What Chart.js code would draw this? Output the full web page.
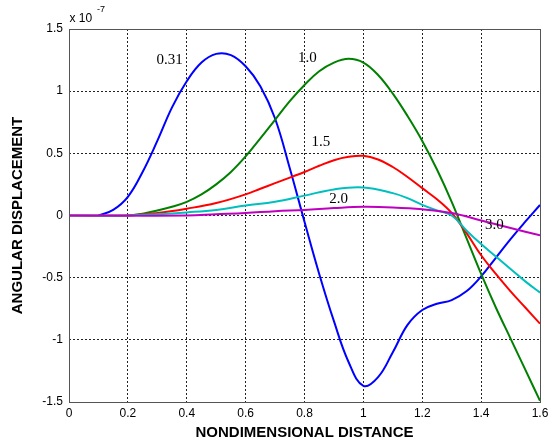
<!DOCTYPE html>
<html>
<head>
<meta charset="utf-8">
<script src="https://cdn.jsdelivr.net/npm/chart.js@4/dist/chart.umd.min.js"></script>
<style>
  html, body { margin: 0; padding: 0; background: #fff; }
  #wrap { width: 556px; height: 444px; position: relative; }
</style>
</head>
<body>
<div id="wrap"><canvas id="c" width="556" height="444"></canvas></div>
<script>
// ---- data (values in units of 1e-7) ----
const xTickLabels = ["0", "0.2", "0.4", "0.6", "0.8", "1", "1.2", "1.4", "1.6"];
const yTickLabels = ["-1.5", "-1", "-0.5", "0", "0.5", "1", "1.5"];
const seriesNames = ["0.31", "1.0", "1.5", "2.0", "3.0"];

const x031 = [0.1, 0.15, 0.2, 0.25, 0.3, 0.35, 0.4, 0.45, 0.5, 0.55, 0.6, 0.65, 0.7, 0.75, 0.8, 0.85, 0.9, 0.95, 1.0, 1.05, 1.1, 1.15, 1.2, 1.25, 1.3, 1.35, 1.4, 1.45, 1.5, 1.55, 1.6];
const y031 = [0, 0.045, 0.15, 0.35, 0.60, 0.87, 1.08, 1.23, 1.30, 1.29, 1.20, 1.04, 0.78, 0.38, -0.05, -0.47, -0.85, -1.18, -1.37, -1.30, -1.10, -0.88, -0.76, -0.71, -0.68, -0.61, -0.49, -0.34, -0.19, -0.05, 0.085];

const x10 = [0.2, 0.25, 0.3, 0.35, 0.4, 0.45, 0.5, 0.55, 0.6, 0.65, 0.7, 0.75, 0.8, 0.85, 0.9, 0.95, 1.0, 1.05, 1.1, 1.15, 1.2, 1.25, 1.3, 1.35, 1.4, 1.45, 1.5, 1.55, 1.6];
const y10 = [0, 0.015, 0.04, 0.07, 0.11, 0.17, 0.25, 0.35, 0.475, 0.62, 0.77, 0.92, 1.05, 1.16, 1.23, 1.26, 1.23, 1.13, 0.98, 0.80, 0.60, 0.37, 0.11, -0.18, -0.47, -0.74, -0.99, -1.24, -1.49];

const x15 = [0, 0.2, 0.3, 0.4, 0.5, 0.6, 0.65, 0.7, 0.75, 0.8, 0.85, 0.9, 0.95, 1.0, 1.05, 1.1, 1.15, 1.2, 1.25, 1.3, 1.35, 1.4, 1.45, 1.5, 1.55, 1.6];
const y15 = [0, 0, 0.02, 0.055, 0.10, 0.17, 0.215, 0.26, 0.305, 0.35, 0.40, 0.445, 0.472, 0.48, 0.45, 0.39, 0.31, 0.22, 0.13, 0.02, -0.14, -0.32, -0.47, -0.61, -0.74, -0.87];

const x20 = [0, 0.2, 0.3, 0.4, 0.5, 0.6, 0.7, 0.8, 0.9, 1.0, 1.1, 1.15, 1.2, 1.25, 1.3, 1.35, 1.4, 1.45, 1.5, 1.55, 1.6];
const y20 = [0, 0, 0.01, 0.025, 0.045, 0.08, 0.11, 0.16, 0.21, 0.225, 0.18, 0.14, 0.085, 0.04, 0, -0.12, -0.23, -0.33, -0.43, -0.53, -0.62];

const x30 = [0, 0.4, 0.5, 0.6, 0.7, 0.8, 0.9, 1.0, 1.1, 1.2, 1.3, 1.4, 1.5, 1.6];
const y30 = [0, 0, 0.01, 0.02, 0.035, 0.045, 0.06, 0.07, 0.065, 0.05, 0.02, -0.04, -0.10, -0.16];

// label anchor positions (data coordinates)
const labelX = [0.342, 0.81, 0.856, 0.916, 1.445];
const labelY = [1.25, 1.265, 0.59, 0.135, -0.08];

const colors = ["#0000ff", "#008000", "#ff0000", "#00bfbf", "#bf00bf"];

function pts(xs, ys) { return xs.map((x, i) => ({ x: x, y: ys[i] })); }
const allX = [x031, x10, x15, x20, x30];
const allY = [y031, y10, y15, y20, y30];

const datasets = allX.map((xs, i) => ({
  label: seriesNames[i],
  data: pts(xs, allY[i]),
  borderColor: colors[i],
  backgroundColor: colors[i],
  borderWidth: 2,
  pointRadius: 0,
  tension: 0.4,
  fill: false,
  order: 5 - i
}));

const annot = {
  id: 'annot',
  afterDraw(chart) {
    const ctx = chart.ctx;
    const a = chart.chartArea;
    const xs = chart.scales.x, ys = chart.scales.y;
    ctx.save();
    // box
    ctx.strokeStyle = '#555';
    ctx.lineWidth = 1;
    ctx.strokeRect(Math.round(a.left) + 0.5, Math.round(a.top) + 0.5, Math.round(a.right - a.left), Math.round(a.bottom - a.top));
    // curve labels
    ctx.fillStyle = '#000';
    ctx.font = '15px "Liberation Serif", "Times New Roman", serif';
    ctx.textAlign = 'center';
    ctx.textBaseline = 'middle';
    seriesNames.forEach((n, i) => {
      ctx.fillText(n, xs.getPixelForValue(labelX[i]), ys.getPixelForValue(labelY[i]));
    });
    // exponent label
    ctx.textAlign = 'left';
    ctx.textBaseline = 'alphabetic';
    ctx.font = '12px "Liberation Sans", Arial, sans-serif';
    ctx.fillText('x 10', a.left + 0.5, a.top - 7);
    ctx.font = '9px "Liberation Sans", Arial, sans-serif';
    ctx.fillText('-7', a.left + 28, a.top - 17);
    // axis titles
    ctx.fillStyle = '#000';
    ctx.font = 'bold 15px "Liberation Sans", Arial, sans-serif';
    ctx.textAlign = 'center';
    ctx.textBaseline = 'middle';
    ctx.fillText('NONDIMENSIONAL DISTANCE', (a.left + a.right) / 2, 433);
    ctx.translate(18, (a.top + a.bottom) / 2);
    ctx.rotate(-Math.PI / 2);
    ctx.fillText('ANGULAR DISPLACEMENT', 0, 0);
    ctx.restore();
  }
};

new Chart(document.getElementById('c'), {
  type: 'line',
  data: { datasets: datasets },
  options: {
    responsive: false,
    animation: false,
    devicePixelRatio: 1,
    layout: { padding: { top: 29, right: 16, left: 0, bottom: 0 } },
    plugins: { legend: { display: false }, tooltip: { enabled: false } },
    scales: {
      x: {
        type: 'linear',
        min: 0, max: 1.6,
        afterFit(s) { s.height = 42; },
        afterBuildTicks(s) { s.ticks = xTickLabels.map(v => ({ value: parseFloat(v) })); },
        ticks: {
          color: '#000',
          font: { family: '"Liberation Sans", Arial, sans-serif', size: 12 },
          padding: 4,
          maxRotation: 0,
          callback: (v, i) => xTickLabels[i]
        },
        grid: { color: '#222', lineWidth: 1, drawTicks: false },
        border: { display: false, dash: [2, 2] }
      },
      y: {
        type: 'linear',
        min: -1.5, max: 1.5,
        afterFit(s) { s.width = 69; },
        afterBuildTicks(s) { s.ticks = yTickLabels.map(v => ({ value: parseFloat(v) })); },
        ticks: {
          color: '#000',
          font: { family: '"Liberation Sans", Arial, sans-serif', size: 12 },
          padding: 6,
          callback: (v, i) => yTickLabels[i]
        },
        grid: { color: '#222', lineWidth: 1, drawTicks: false },
        border: { display: false, dash: [2, 2] }
      }
    }
  },
  plugins: [annot]
});
</script>
</body>
</html>
